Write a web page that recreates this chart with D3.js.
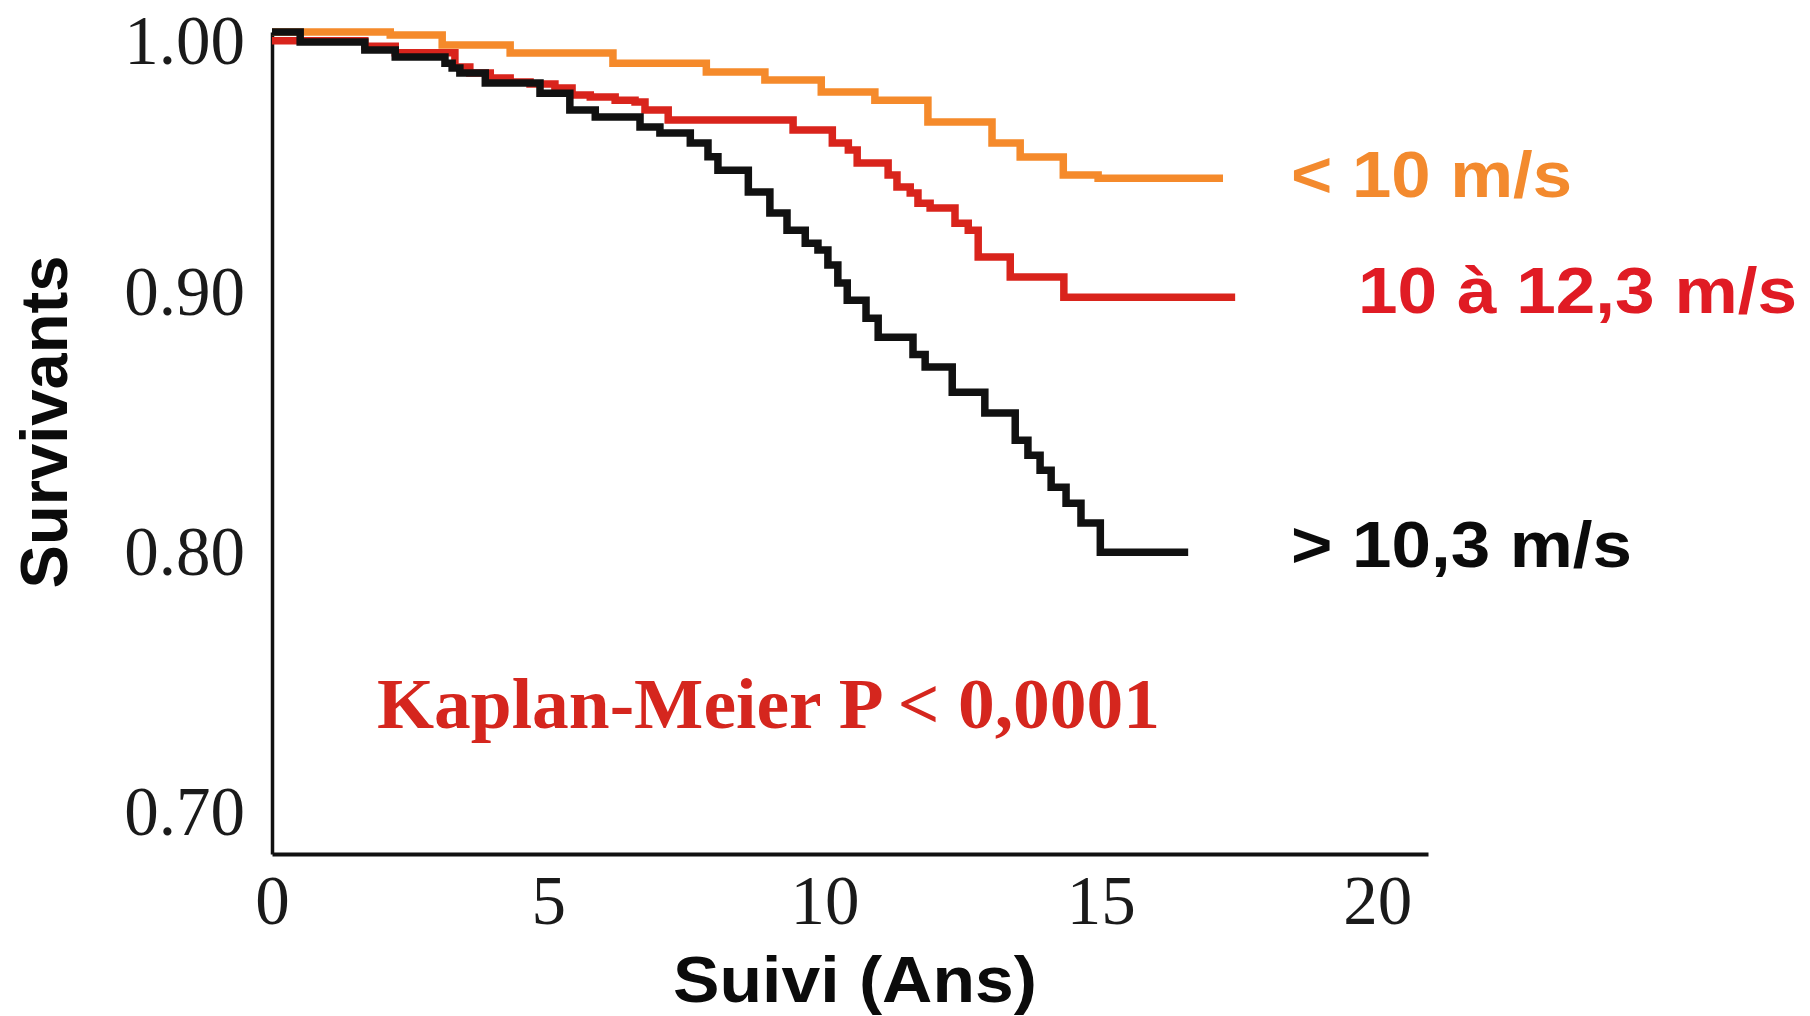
<!DOCTYPE html>
<html lang="fr">
<head>
<meta charset="utf-8">
<title>Survie selon la vitesse de l'onde de pouls</title>
<script src="https://cdn.jsdelivr.net/npm/d3@7"></script>
<style>
  html, body { margin: 0; padding: 0; background: #ffffff; }
  svg { display: block; }
</style>
</head>
<body>
<svg id="chart" width="1810" height="1016"></svg>
<script>
// Kaplan-Meier step curves: time (years) at which survival drops, and the new survival value.
// Last entry of each series is the end of follow-up (censoring plateau).
const timesLow = [0, 2.14, 3.08, 4.31, 6.17, 7.86, 8.92, 9.94, 10.91, 11.87, 13.03, 13.54, 14.32, 14.95, 17.21];
const survLow  = [1.000, 0.9988, 0.9950, 0.9919, 0.9880, 0.9846, 0.9815, 0.9769, 0.9738, 0.9654, 0.9573, 0.9519, 0.9450, 0.9438, 0.9438];

const timesMid = [0, 1.68, 2.23, 3.31, 3.58, 3.95, 4.31, 4.67, 5.12, 5.43, 5.76, 6.21, 6.57, 6.75, 7.17, 9.43, 10.14, 10.43, 10.59, 11.15, 11.31, 11.55, 11.69, 11.91, 12.36, 12.60, 12.78, 13.36, 14.33, 17.43];
const survMid  = [0.9966, 0.9945, 0.9920, 0.9865, 0.9842, 0.9823, 0.9808, 0.9800, 0.9785, 0.9758, 0.9750, 0.9738, 0.9731, 0.9700, 0.9662, 0.9623, 0.9573, 0.9546, 0.9496, 0.9450, 0.9404, 0.9381, 0.9342, 0.9323, 0.9265, 0.9238, 0.9135, 0.9058, 0.8980, 0.8980];

const timesHigh = [0, 0.51, 1.68, 2.23, 3.13, 3.26, 3.40, 3.86, 4.85, 5.39, 5.85, 6.66, 7.02, 7.57, 7.89, 8.07, 8.62, 9.01, 9.32, 9.65, 9.88, 10.06, 10.24, 10.41, 10.75, 10.97, 11.60, 11.82, 12.31, 12.90, 13.45, 13.68, 13.90, 14.10, 14.37, 14.64, 14.99, 16.58];
const survHigh  = [1.000, 0.9962, 0.9931, 0.9904, 0.9880, 0.9862, 0.9842, 0.9804, 0.9765, 0.9700, 0.9673, 0.9635, 0.9612, 0.9573, 0.9520, 0.9469, 0.9385, 0.9304, 0.9238, 0.9188, 0.9162, 0.9104, 0.9035, 0.8969, 0.8900, 0.8827, 0.8760, 0.8712, 0.8615, 0.8535, 0.8431, 0.8373, 0.8315, 0.8250, 0.8188, 0.8112, 0.8000, 0.8000];

const seriesLabels = ["< 10 m/s", "10 à 12,3 m/s", "> 10,3 m/s"];
const seriesColors = ["#f58a2b", "#d9241c", "#111111"];
const labelColors  = ["#f38a2e", "#e01b24", "#0b0b0b"];

const xTicks = [0, 5, 10, 15, 20];
const yTicks = [0.70, 0.80, 0.90, 1.00];
const xTitle = "Suivi (Ans)";
const yTitle = "Survivants";
const testNote = "Kaplan-Meier P < 0,0001";

const svg = d3.select("#chart");

// Scales: plot box runs from the y-axis (t = 0) to the end of the x-axis line
const x = d3.scaleLinear().domain([0, 20.92]).range([272, 1428]);
const y = d3.scaleLinear().domain([0.684, 1.0]).range([854, 32]);

// Axes
const xAxis = d3.axisBottom(x).tickValues(xTicks).tickSize(0).tickPadding(21).tickFormat(d3.format("d"));
const yAxis = d3.axisLeft(y).tickValues(yTicks).tickSize(0).tickPadding(27).tickFormat(d3.format(".2f"));

const gx = svg.append("g").attr("transform", `translate(0,${y.range()[0]})`).call(xAxis);
const gy = svg.append("g").attr("transform", `translate(${x.range()[0]},0)`).call(yAxis);

[gx, gy].forEach(g => {
  g.select(".domain").attr("stroke", "#111").attr("fill", "none");
  g.selectAll(".tick text")
    .attr("fill", "#1a1a1a")
    .style("font-family", "'Liberation Serif', 'Times New Roman', serif")
    .style("font-size", "69px");
});
gx.select(".domain").attr("stroke-width", 4);
gy.select(".domain").attr("stroke-width", 3.5);
// the top label sits a little below its gridline so it stays inside the page
gy.selectAll(".tick text").filter(d => d === 1.0).attr("dy", "0.45em");

// Survival curves
const line = d3.line()
  .x(d => x(d[0]))
  .y(d => y(d[1]))
  .curve(d3.curveStepAfter);

const series = [
  { t: timesLow,  s: survLow  },
  { t: timesMid,  s: survMid  },
  { t: timesHigh, s: survHigh }
];

svg.append("g")
  .selectAll("path")
  .data(series)
  .join("path")
  .attr("d", d => line(d.t.map((t, i) => [t, d.s[i]])))
  .attr("fill", "none")
  .attr("stroke", (d, i) => seriesColors[i])
  .attr("stroke-width", 7.5)
  .attr("stroke-linejoin", "miter");

// Group labels at the right of each plateau
const labelPos = [
  { x: 1291, y: 197, w: 281 },
  { x: 1358, y: 313, w: 439 },
  { x: 1291, y: 567, w: 341 }
];
svg.append("g")
  .selectAll("text")
  .data(seriesLabels)
  .join("text")
  .attr("x", (d, i) => labelPos[i].x)
  .attr("y", (d, i) => labelPos[i].y)
  .attr("textLength", (d, i) => labelPos[i].w)
  .attr("lengthAdjust", "spacingAndGlyphs")
  .attr("fill", (d, i) => labelColors[i])
  .style("font-family", "'Liberation Sans', Arial, Helvetica, sans-serif")
  .style("font-weight", "bold")
  .style("font-size", "64px")
  .text(d => d);

// Log-rank note
svg.append("text")
  .attr("x", 377)
  .attr("y", 728)
  .attr("textLength", 783)
  .attr("lengthAdjust", "spacingAndGlyphs")
  .attr("fill", "#d5261e")
  .style("font-family", "'Liberation Serif', 'Times New Roman', serif")
  .style("font-weight", "bold")
  .style("font-size", "72px")
  .text(testNote);

// Axis titles
svg.append("text")
  .attr("x", 855)
  .attr("y", 1002)
  .attr("text-anchor", "middle")
  .attr("textLength", 364)
  .attr("lengthAdjust", "spacingAndGlyphs")
  .attr("fill", "#0b0b0b")
  .style("font-family", "'Liberation Sans', Arial, Helvetica, sans-serif")
  .style("font-weight", "bold")
  .style("font-size", "64px")
  .text(xTitle);

svg.append("text")
  .attr("transform", "translate(67,422) rotate(-90)")
  .attr("text-anchor", "middle")
  .attr("textLength", 333)
  .attr("lengthAdjust", "spacingAndGlyphs")
  .attr("fill", "#0b0b0b")
  .style("font-family", "'Liberation Sans', Arial, Helvetica, sans-serif")
  .style("font-weight", "bold")
  .style("font-size", "66px")
  .text(yTitle);
</script>
</body>
</html>
